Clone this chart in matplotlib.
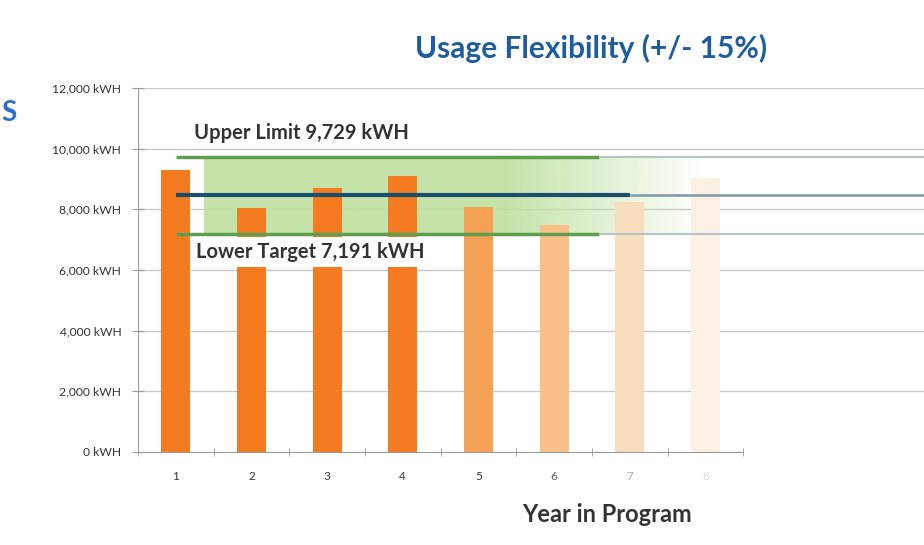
import numpy as np
import matplotlib
matplotlib.use("Agg")
import matplotlib.pyplot as plt
from matplotlib.ticker import FuncFormatter

years = [1, 2, 3, 4, 5, 6, 7, 8]
usage = [9300, 8050, 8700, 9100, 8080, 7480, 8240, 9030]
bar_colors = ["#F47B20", "#F47B20", "#F47B20", "#F47B20", "#F5A155", "#F8C088", "#F6DDBB", "#FAF0E4"]
upper_limit = 9729
lower_target = 7191
mean_usage = (upper_limit + lower_target) / 2
yticks = [0, 2000, 4000, 6000, 8000, 10000, 12000]
title = "Usage Flexibility (+/- 15%)"

plt.rcParams['font.family'] = ['Lato', 'DejaVu Sans']

fig = plt.figure(figsize=(9.24, 5.45), dpi=100)
ax = fig.add_axes([138/924, 1-452/545, 1-138/924, (452-88)/545])
xmax = 10.89
ax.set_xlim(0.5, xmax)
ax.set_ylim(0, 12000)

# grid
for yt in yticks[1:]:
    ax.axhline(yt, color="#C8C8C8", lw=1.0, zorder=0)

# green band with fade
n = 400
grad = np.ones((1, n, 4))
grad[..., 0] = 0xC2/255
grad[..., 1] = 0xE2/255
grad[..., 2] = 0xA4/255
xs = np.linspace(0, 1, n)
alpha = np.clip(1 - (xs - 0.6) / 0.4, 0, 1) * 0.95
grad[0, :, 3] = alpha
ax.imshow(grad, extent=[1.37, 8.0, lower_target, upper_limit], aspect="auto", zorder=1, interpolation="bilinear")

# bars
ax.bar(years, usage, width=0.385, color=bar_colors, zorder=2)

# reference lines
ax.hlines(upper_limit, 1.0, 6.6, color="#5E9E4E", lw=2.5, zorder=3)
ax.hlines(upper_limit, 6.6, xmax, color="#B7C3C8", lw=1.5, zorder=3)
ax.hlines(mean_usage, 1.0, 7.0, color="#1B4F6E", lw=3.0, zorder=3)
ax.hlines(mean_usage, 7.0, xmax, color="#7F98A4", lw=1.8, zorder=3)
ax.hlines(lower_target, 1.0, 6.6, color="#5E9E4E", lw=2.5, zorder=3)
ax.hlines(lower_target, 6.6, xmax, color="#B7C3C8", lw=1.5, zorder=3)

ax.text(1.238, 10510, f"Upper Limit {upper_limit:,} kWH", fontsize=14.5, fontweight="bold",
        color="#333333", va="center", ha="left", zorder=4)
ax.text(1.265, 6590, f"Lower Target {lower_target:,} kWH", fontsize=14.5, fontweight="bold",
        color="#333333", va="center", ha="left", zorder=4,
        bbox=dict(boxstyle="square,pad=0.25", fc="white", ec="none"))

# axes styling
for s in ["top", "right"]:
    ax.spines[s].set_visible(False)
ax.spines["left"].set_color("#9A9A9A")
ax.spines["bottom"].set_color("#9A9A9A")
ax.spines["bottom"].set_bounds(0.5, 8.5)
ax.set_yticks(yticks)
ax.yaxis.set_major_formatter(FuncFormatter(lambda v, p: f"{int(v):,} kWH"))
ax.tick_params(axis="y", direction="inout", length=8, color="#9A9A9A", labelsize=8.7, labelcolor="#333333", pad=8)
ax.set_xticks(years)
ax.set_xticklabels([str(y) for y in years])
ax.tick_params(axis="x", length=0, labelsize=8.5, labelcolor="#333333", pad=14)
for lab, c in zip(ax.get_xticklabels(), ["#333333"]*5 + ["#555555", "#AAAAAA", "#E0E0E0"]):
    lab.set_color(c)
ax.set_xticks(np.arange(0.5, 9.0, 1.0), minor=True)
ax.tick_params(axis="x", which="minor", direction="inout", length=6, color="#9A9A9A")
ax.patch.set_alpha(0)

fig.text(607/924, 1-515/545, "Year in Program", fontsize=17, fontweight="bold", color="#333333",
         ha="center", va="center")
fig.text(591/924, 1-48/545, title, fontsize=21.5, fontweight="bold", color="#1F5E9C",
         ha="center", va="center")
fig.text(1/924, 1-113/545, "S", fontsize=20, fontweight="bold", color="#2F6FD0", ha="left", va="center")

fig.savefig("out.png", dpi=100)
